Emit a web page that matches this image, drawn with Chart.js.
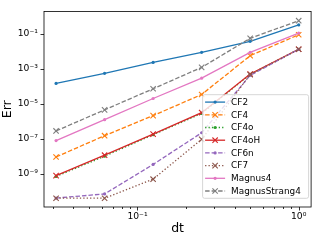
<!DOCTYPE html>
<html>
<head>
<meta charset="utf-8">
<script src="https://cdn.jsdelivr.net/npm/chart.js@4.4.1/dist/chart.umd.min.js"></script>
<style>
  body { margin: 0; background: #fff; }
  #wrap { width: 316px; height: 241px; position: relative; }
</style>
</head>
<body>
<div id="wrap"><canvas id="errChart"></canvas></div>
<script>
// step sizes and errors
const dt = [1/32, 1/16, 1/8, 1/4, 1/2, 1];
const cf2 = [1.45e-4, 5.5e-4, 2.3e-3, 8.7e-3, 3.7e-2, 0.32];
const cf4 = [9.1e-9, 1.5e-7, 2.1e-6, 3.4e-5, 5.6e-3, 8.8e-2];
const cf4o = [7.0e-10, 1.0e-8, 1.7e-7, 2.8e-6, 4.8e-4, 1.3e-2];
const cf4oH = [7.8e-10, 1.15e-8, 1.85e-7, 3.1e-6, 5.0e-4, 1.3e-2];
const cf6n = [4.1e-11, 7.0e-11, 3.4e-9, 2.2e-7, 4.2e-4, 1.3e-2];
const cf7 = [4.0e-11, 4.0e-11, 4.9e-10, 9.3e-8, 4.6e-4, 1.3e-2];
const magnus4 = [7.9e-8, 1.23e-6, 2.0e-5, 2.9e-4, 8.7e-3, 0.11];
const magnusStrang4 = [2.8e-7, 4.5e-6, 7.2e-5, 1.2e-3, 5.5e-2, 0.56];

const xMajor = [0.1, 1];
const xMajorLabels = ['10⁻¹', '10⁰'];
const xMinor = [0.03, 0.04, 0.05, 0.06, 0.07, 0.08, 0.09, 0.2, 0.3, 0.4, 0.5, 0.6, 0.7, 0.8, 0.9];
const yMajor = [1e-9, 1e-7, 1e-5, 1e-3, 1e-1];
const yMajorLabels = ['10⁻⁹', '10⁻⁷', '10⁻⁵', '10⁻³', '10⁻¹'];

const FONT = 'DejaVu Sans';
const DASHED = [4.5, 2];
const DOTTED = [1.3, 2.1];

function series(label, values, color, dash, marker, i) {
    const dot = marker === '.';
    return {
        label: label,
        data: dt.map((d, k) => ({ x: d, y: values[k] })),
        borderColor: color,
        backgroundColor: color,
        borderWidth: 1.3,
        borderDash: dash,
        pointStyle: dot ? 'circle' : 'crossRot',
        pointRadius: dot ? 1.6 : 3.8,
        pointBorderWidth: dot ? 0 : 1.1,
        pointHoverRadius: dot ? 1.6 : 3.8,
        tension: 0,
        order: 10 - i
    };
}

const datasets = [
    series('CF2', cf2, '#1f77b4', [], '.', 0),
    series('CF4', cf4, '#ff7f0e', DASHED, 'x', 1),
    series('CF4o', cf4o, '#2ca02c', DOTTED, '.', 2),
    series('CF4oH', cf4oH, '#d62728', [], 'x', 3),
    series('CF6n', cf6n, '#9467bd', DASHED, '.', 4),
    series('CF7', cf7, '#8c564b', DOTTED, 'x', 5),
    series('Magnus4', magnus4, '#e377c2', [], '.', 6),
    series('MagnusStrang4', magnusStrang4, '#7f7f7f', DASHED, 'x', 7)
];

// box + outward ticks like matplotlib
const frame = {
    id: 'frame',
    afterDatasetsDraw(chart) {
        const { ctx, chartArea: a, scales } = chart;
        ctx.save();
        ctx.strokeStyle = '#000';
        ctx.lineWidth = 0.8;
        ctx.setLineDash([]);
        ctx.strokeRect(a.left, a.top, a.right - a.left, a.bottom - a.top);
        ctx.beginPath();
        xMajor.concat(xMinor).forEach(v => {
            const px = Math.round(scales.x.getPixelForValue(v)) + 0.5;
            const len = xMajor.includes(v) ? 3.5 : 2;
            ctx.moveTo(px, a.bottom);
            ctx.lineTo(px, a.bottom + len);
        });
        yMajor.forEach(v => {
            const py = Math.round(scales.y.getPixelForValue(v)) + 0.5;
            ctx.moveTo(a.left, py);
            ctx.lineTo(a.left - 3.5, py);
        });
        ctx.stroke();
        ctx.restore();
    }
};

// legend inside the axes, lower right
const insideLegend = {
    id: 'insideLegend',
    afterDraw(chart) {
        const { ctx, chartArea: a } = chart;
        const sets = chart.data.datasets;
        const boxW = 106, rowH = 12.7;
        const boxH = 103.6;
        const x0 = a.right - boxW - 2.5, y0 = a.bottom - boxH - 8.7;
        ctx.save();
        ctx.fillStyle = 'rgba(255,255,255,0.8)';
        ctx.strokeStyle = '#cccccc';
        ctx.lineWidth = 0.8;
        ctx.beginPath();
        ctx.roundRect(x0, y0, boxW, boxH, 2);
        ctx.fill();
        ctx.stroke();
        ctx.font = '8.9px "' + FONT + '"';
        ctx.textBaseline = 'middle';
        ctx.fillStyle = '#000';
        sets.forEach((ds, i) => {
            const cy = y0 + 7.4 + i * rowH;
            const lx = x0 + 2.5;
            ctx.strokeStyle = ds.borderColor;
            ctx.lineWidth = ds.borderWidth;
            ctx.setLineDash(ds.borderDash);
            ctx.beginPath();
            ctx.moveTo(lx, cy);
            ctx.lineTo(lx + 20, cy);
            ctx.stroke();
            ctx.setLineDash([]);
            ctx.fillStyle = ds.backgroundColor;
            ctx.strokeStyle = ds.borderColor;
            ctx.lineWidth = ds.pointBorderWidth;
            Chart.helpers.drawPoint(ctx, {
                pointStyle: ds.pointStyle,
                radius: ds.pointRadius,
                rotation: 0,
                borderWidth: ds.pointBorderWidth
            }, lx + 10, cy);
            ctx.fillStyle = '#000';
            ctx.fillText(ds.label, lx + 26, cy + 0.5);
        });
        ctx.restore();
    }
};

new Chart(document.getElementById('errChart').getContext('2d'), {
    type: 'line',
    data: { datasets: datasets },
    options: {
        responsive: true,
        maintainAspectRatio: false,
        animation: false,
        devicePixelRatio: 1,
        layout: { padding: { top: 7, right: 4, left: 0, bottom: 0 } },
        plugins: {
            legend: { display: false },
            tooltip: { enabled: false }
        },
        scales: {
            x: {
                type: 'logarithmic',
                min: Math.pow(10, -1.58),
                max: Math.pow(10, 0.077),
                grid: { display: false, drawTicks: false },
                border: { display: false },
                afterBuildTicks: s => {
                    s.ticks = xMajor.concat(xMinor).sort((p, q) => p - q).map(v => ({ value: v }));
                },
                afterFit: s => { s.height = 34; },
                ticks: {
                    autoSkip: false,
                    maxRotation: 0,
                    padding: 4,
                    color: '#000',
                    font: { family: FONT, size: 9.2 },
                    callback: v => {
                        const k = xMajor.findIndex(m => Math.abs(m - v) < 1e-9);
                        return k >= 0 ? xMajorLabels[k] : '';
                    }
                },
                title: {
                    display: true,
                    text: 'dt',
                    color: '#000',
                    font: { family: FONT, size: 12.5 },
                    padding: { top: 0, bottom: 5 }
                }
            },
            y: {
                type: 'logarithmic',
                min: Math.pow(10, -10.9),
                max: Math.pow(10, 0.272),
                grid: { display: false, drawTicks: false },
                border: { display: false },
                afterBuildTicks: s => {
                    s.ticks = yMajor.map(v => ({ value: v }));
                },
                afterFit: s => { s.width = 44; },
                ticks: {
                    autoSkip: false,
                    padding: 6,
                    color: '#000',
                    font: { family: FONT, size: 9.2 },
                    callback: v => {
                        const k = yMajor.findIndex(m => Math.abs(Math.log10(m) - Math.log10(v)) < 1e-6);
                        return k >= 0 ? yMajorLabels[k] : '';
                    }
                },
                title: {
                    display: true,
                    text: 'Err',
                    color: '#000',
                    font: { family: FONT, size: 12.5 },
                    padding: { top: 0, bottom: 0 }
                }
            }
        }
    },
    plugins: [frame, insideLegend]
});
</script>
</body>
</html>
